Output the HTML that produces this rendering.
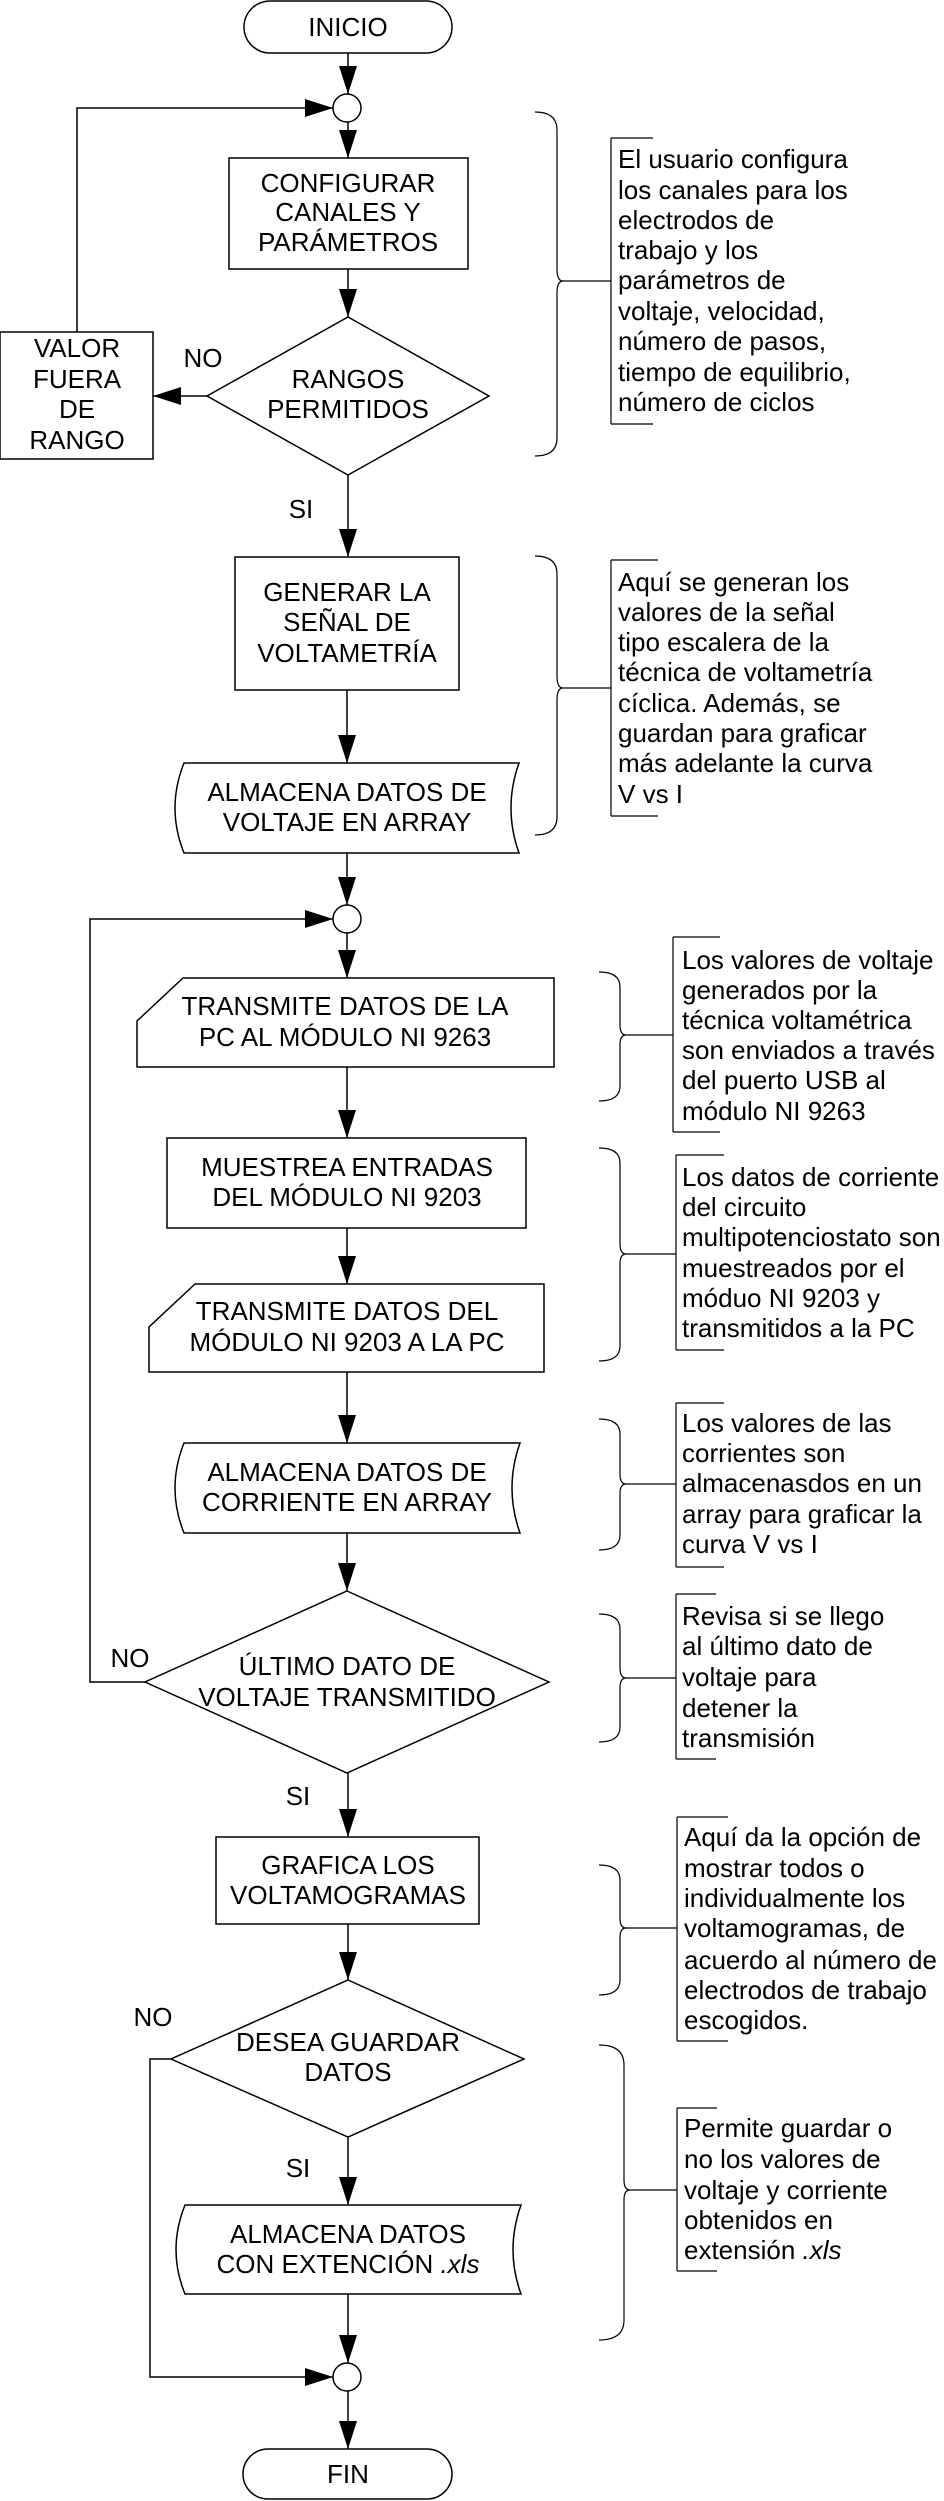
<!DOCTYPE html>
<html><head><meta charset="utf-8"><style>
html,body{margin:0;padding:0;background:#fff;}
svg{display:block;}
text{font-family:"Liberation Sans",Arial,sans-serif;font-size:26px;fill:#000;}
.c{text-anchor:middle;dominant-baseline:central;}
.l{dominant-baseline:central;}
</style></head><body>
<svg width="944" height="2501" viewBox="0 0 944 2501" xmlns="http://www.w3.org/2000/svg">
<g fill="none" stroke="#000" stroke-width="1.5">
<rect x="244" y="1" width="208" height="52" rx="26"/>
<rect x="243" y="2449" width="209" height="50" rx="25"/>
<circle cx="347" cy="108" r="14"/>
<circle cx="347" cy="919" r="14"/>
<circle cx="347" cy="2377" r="14"/>
<rect x="229" y="158" width="239" height="111"/>
<rect x="0" y="332" width="153" height="127"/>
<rect x="235" y="557" width="224" height="133"/>
<rect x="167" y="1138" width="359" height="90"/>
<rect x="216" y="1837" width="263" height="87"/>
<path d="M183,978 L554,978 L554,1067 L137,1067 L137,1021 Z"/>
<path d="M195,1284 L544,1284 L544,1372 L149,1372 L149,1327 Z"/>
<path d="M184,763 L519,763 Q503,808 519,853 L184,853 Q166,808 184,763 Z"/>
<path d="M184,1443 L520,1443 Q504,1488 520,1533 L184,1533 Q166,1488 184,1443 Z"/>
<path d="M185,2205 L521,2205 Q505,2250 521,2294 L185,2294 Q167,2250 185,2205 Z"/>
<path d="M348,317 L489,396 L348,475 L207,396 Z"/>
<path d="M347,1591 L549,1682 L347,1773 L145,1682 Z"/>
<path d="M348,1980 L524,2059 L348,2137 L171,2059 Z"/>
<path d="M348,53 V94 M348,122 V158 M348,269 V317 M348,475 V557 M347,690 V763 M347,853 V905 M347,933 V978 M347,1067 V1138 M347,1228 V1284 M347,1372 V1443 M347,1533 V1591 M348,1773 V1837 M348,1924 V1980 M348,2137 V2205 M348,2294 V2363 M348,2391 V2449"/>
<path d="M207,396 H153"/>
<path d="M77,332 V108 H333"/>
<path d="M145,1682 H90 V919 H333"/>
<path d="M171,2059 H150 V2377 H333"/>
<g stroke-width="1.2">
<path d="M535,112 Q557,112 557,130 L557,269 Q557,281 563,281 Q557,281 557,293 L557,438 Q557,456 535,456 M563,281 H611"/>
<path d="M611,138 V424 M611,138 H653 M611,424 H653"/>
<path d="M535,556 Q557,556 557,574 L557,676 Q557,688 563,688 Q557,688 557,700 L557,817 Q557,835 535,835 M563,688 H611"/>
<path d="M611,560 V816 M611,560 H658 M611,816 H658"/>
<path d="M599,972 Q620,972 620,987 L620,1025 Q620,1035 626,1035 Q620,1035 620,1045 L620,1086 Q620,1101 599,1101 M626,1035 H673"/>
<path d="M673,937 V1132 M673,937 H720 M673,1132 H720"/>
<path d="M599,1148 Q620,1148 620,1163 L620,1244 Q620,1254 626,1254 Q620,1254 620,1264 L620,1346 Q620,1361 599,1361 M626,1254 H676"/>
<path d="M676,1155 V1350 M676,1155 H724 M676,1350 H724"/>
<path d="M599,1419 Q620,1419 620,1434 L620,1474 Q620,1484 626,1484 Q620,1484 620,1494 L620,1535 Q620,1550 599,1550 M626,1484 H676"/>
<path d="M676,1403 V1567 M676,1403 H724 M676,1567 H724"/>
<path d="M599,1614 Q620,1614 620,1629 L620,1668 Q620,1678 626,1678 Q620,1678 620,1688 L620,1727 Q620,1742 599,1742 M626,1678 H676"/>
<path d="M676,1594 V1759 M676,1594 H716 M676,1759 H716"/>
<path d="M599,1865 Q620,1865 620,1880 L620,1918 Q620,1928 626,1928 Q620,1928 620,1938 L620,1980 Q620,1995 599,1995 M626,1928 H677"/>
<path d="M677,1817 V2041 M677,1817 H728 M677,2041 H728"/>
<path d="M599,2045 Q624,2045 624,2065 L624,2180 Q624,2190 630,2190 Q624,2190 624,2200 L624,2320 Q624,2340 599,2340 M630,2190 H677"/>
<path d="M677,2108 V2271 M677,2108 H717 M677,2271 H717"/>
</g>
</g>
<g fill="#000">
<polygon points="339,66 357,66 348,94"/>
<polygon points="339,130 357,130 348,158"/>
<polygon points="339,289 357,289 348,317"/>
<polygon points="339,529 357,529 348,557"/>
<polygon points="338,735 356,735 347,763"/>
<polygon points="338,877 356,877 347,905"/>
<polygon points="338,950 356,950 347,978"/>
<polygon points="338,1110 356,1110 347,1138"/>
<polygon points="338,1256 356,1256 347,1284"/>
<polygon points="338,1415 356,1415 347,1443"/>
<polygon points="338,1563 356,1563 347,1591"/>
<polygon points="339,1809 357,1809 348,1837"/>
<polygon points="339,1952 357,1952 348,1980"/>
<polygon points="339,2177 357,2177 348,2205"/>
<polygon points="339,2335 357,2335 348,2363"/>
<polygon points="339,2421 357,2421 348,2449"/>
<polygon points="305,99 305,117 333,108"/>
<polygon points="305,910 305,928 333,919"/>
<polygon points="305,2368 305,2386 333,2377"/>
<polygon points="181,387 181,405 153,396"/>
</g>
<text class="c" x="348" y="27">INICIO</text>
<text class="c" x="348" y="183">CONFIGURAR</text>
<text class="c" x="348" y="212">CANALES Y</text>
<text class="c" x="348" y="242">PARÁMETROS</text>
<text class="c" x="348" y="379">RANGOS</text>
<text class="c" x="348" y="409">PERMITIDOS</text>
<text class="c" x="77" y="348">VALOR</text>
<text class="c" x="77" y="379">FUERA</text>
<text class="c" x="77" y="409">DE</text>
<text class="c" x="77" y="440">RANGO</text>
<text class="c" x="203" y="358">NO</text>
<text class="c" x="301" y="509">SI</text>
<text class="c" x="347" y="592">GENERAR LA</text>
<text class="c" x="347" y="622">SEÑAL DE</text>
<text class="c" x="347" y="653">VOLTAMETRÍA</text>
<text class="c" x="347" y="792">ALMACENA DATOS  DE</text>
<text class="c" x="347" y="822">VOLTAJE EN ARRAY</text>
<text class="c" x="345" y="1006">TRANSMITE DATOS DE LA</text>
<text class="c" x="345" y="1037">PC AL MÓDULO NI 9263</text>
<text class="c" x="347" y="1167">MUESTREA ENTRADAS</text>
<text class="c" x="347" y="1197">DEL MÓDULO NI 9203</text>
<text class="c" x="347" y="1311">TRANSMITE DATOS DEL</text>
<text class="c" x="347" y="1342">MÓDULO NI 9203 A LA PC</text>
<text class="c" x="347" y="1472">ALMACENA DATOS  DE</text>
<text class="c" x="347" y="1502">CORRIENTE EN ARRAY</text>
<text class="c" x="347" y="1666">ÚLTIMO DATO DE</text>
<text class="c" x="347" y="1697">VOLTAJE TRANSMITIDO</text>
<text class="c" x="130" y="1658">NO</text>
<text class="c" x="298" y="1796">SI</text>
<text class="c" x="348" y="1865">GRAFICA LOS</text>
<text class="c" x="348" y="1895">VOLTAMOGRAMAS</text>
<text class="c" x="348" y="2042">DESEA GUARDAR</text>
<text class="c" x="348" y="2072">DATOS</text>
<text class="c" x="153" y="2017">NO</text>
<text class="c" x="298" y="2168">SI</text>
<text class="c" x="348" y="2234">ALMACENA DATOS</text>
<text class="c" x="348" y="2264">CON EXTENCIÓN <tspan font-style="italic">.xls</tspan></text>
<text class="c" x="348" y="2474">FIN</text>
<text class="l" x="618" y="159">El usuario configura</text>
<text class="l" x="618" y="190">los canales para los</text>
<text class="l" x="618" y="220">electrodos de</text>
<text class="l" x="618" y="250">trabajo y los</text>
<text class="l" x="618" y="280">parámetros de</text>
<text class="l" x="618" y="311">voltaje, velocidad,</text>
<text class="l" x="618" y="341">número de pasos,</text>
<text class="l" x="618" y="372">tiempo de equilibrio,</text>
<text class="l" x="618" y="402">número de ciclos</text>
<text class="l" x="618" y="582">Aquí se generan los</text>
<text class="l" x="618" y="612">valores de la señal</text>
<text class="l" x="618" y="642">tipo escalera de la</text>
<text class="l" x="618" y="672">técnica de voltametría</text>
<text class="l" x="618" y="703">cíclica. Además, se</text>
<text class="l" x="618" y="733">guardan para graficar</text>
<text class="l" x="618" y="763">más adelante la curva</text>
<text class="l" x="618" y="794">V vs I</text>
<text class="l" x="682" y="960">Los valores de voltaje</text>
<text class="l" x="682" y="990">generados por la</text>
<text class="l" x="682" y="1020">técnica voltamétrica</text>
<text class="l" x="682" y="1050">son enviados a través</text>
<text class="l" x="682" y="1080">del puerto USB al</text>
<text class="l" x="682" y="1111">módulo NI 9263</text>
<text class="l" x="682" y="1177">Los datos de corriente</text>
<text class="l" x="682" y="1207">del circuito</text>
<text class="l" x="682" y="1237">multipotenciostato son</text>
<text class="l" x="682" y="1268">muestreados por el</text>
<text class="l" x="682" y="1298">móduo NI 9203 y</text>
<text class="l" x="682" y="1328">transmitidos a la PC</text>
<text class="l" x="682" y="1423">Los valores de las</text>
<text class="l" x="682" y="1453">corrientes son</text>
<text class="l" x="682" y="1483">almacenasdos en un</text>
<text class="l" x="682" y="1514">array para graficar la</text>
<text class="l" x="682" y="1544">curva V vs I</text>
<text class="l" x="682" y="1616">Revisa si se llego</text>
<text class="l" x="682" y="1646">al último dato de</text>
<text class="l" x="682" y="1677">voltaje para</text>
<text class="l" x="682" y="1708">detener la</text>
<text class="l" x="682" y="1738">transmisión</text>
<text class="l" x="684" y="1837">Aquí da la opción de</text>
<text class="l" x="684" y="1868">mostrar todos o</text>
<text class="l" x="684" y="1898">individualmente los</text>
<text class="l" x="684" y="1928">voltamogramas, de</text>
<text class="l" x="684" y="1960">acuerdo al número de</text>
<text class="l" x="684" y="1990">electrodos de trabajo</text>
<text class="l" x="684" y="2020">escogidos.</text>
<text class="l" x="684" y="2128">Permite guardar o</text>
<text class="l" x="684" y="2159">no los valores de</text>
<text class="l" x="684" y="2190">voltaje y corriente</text>
<text class="l" x="684" y="2220">obtenidos en</text>
<text class="l" x="684" y="2250">extensión <tspan font-style="italic">.xls</tspan></text>
</svg>
</body></html>
